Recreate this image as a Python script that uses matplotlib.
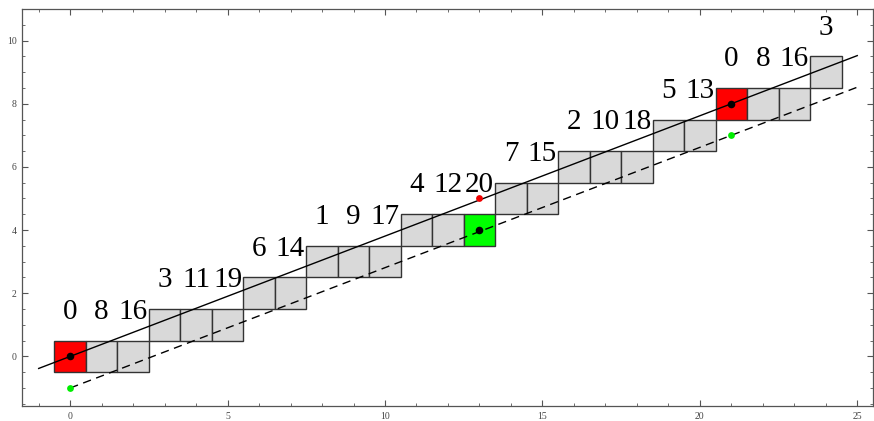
import matplotlib
matplotlib.use("Agg")
import matplotlib.pyplot as plt
from matplotlib.patches import Rectangle
from matplotlib.ticker import MultipleLocator

# ---- data ----
sq_x = [0, 1, 2, 3, 4, 5, 6, 7, 8, 9, 10, 11, 12, 13, 14, 15, 16, 17, 18, 19, 20, 21, 22, 23, 24]
sq_y = [0, 0, 0, 1, 1, 1, 2, 2, 3, 3, 3, 4, 4, 4, 5, 5, 6, 6, 6, 7, 7, 8, 8, 8, 9]
sq_labels = ["0", "8", "16", "3", "11", "19", "6", "14", "1", "9", "17", "4", "12", "20",
             "7", "15", "2", "10", "18", "5", "13", "0", "8", "16", "3"]
sq_kind = ["red", "gray", "gray", "gray", "gray", "gray", "gray", "gray", "gray", "gray",
           "gray", "gray", "gray", "green", "gray", "gray", "gray", "gray", "gray", "gray",
           "gray", "red", "gray", "gray", "gray"]

solid_x = [-1, 25]
solid_y = [-0.381, 9.524]
dashed_x = [0, 25]
dashed_y = [-1.0, 8.524]

black_x = [0, 13, 21]
black_y = [0, 4, 8]
green_x = [0, 21]
green_y = [-1, 7]
red_x = [13]
red_y = [5]

fill_colors = {"red": "#ff0000", "green": "#00ff00", "gray": "#d9d9d9"}

# ---- figure ----
fig = plt.figure(figsize=(8.74, 4.21), dpi=100)
ax = fig.add_axes([22 / 874, 15 / 421, 851 / 874, 397 / 421])

for x, y, k in zip(sq_x, sq_y, sq_kind):
    ax.add_patch(Rectangle((x - 0.5, y - 0.5), 1, 1, facecolor=fill_colors[k],
                           edgecolor="#333333", linewidth=1.0, zorder=2))

for x, y, t in zip(sq_x, sq_y, sq_labels):
    ax.text(x, y + 1.19, t, ha="center", va="baseline", fontsize=21,
            family="Liberation Serif", color="black", zorder=3)

ax.plot(solid_x, solid_y, color="black", linewidth=1.0, zorder=4)
ax.plot(dashed_x, dashed_y, color="black", linewidth=1.0, linestyle=(0, (6, 4)), zorder=4)

ax.scatter(black_x, black_y, s=30, color="black", zorder=5, linewidths=0)
ax.scatter(green_x, green_y, s=24, color="#00ee00", zorder=5, linewidths=0)
ax.scatter(red_x, red_y, s=24, color="#ee0000", zorder=5, linewidths=0)

ax.set_xlim(-1.53, 25.5)
ax.set_ylim(-1.57, 11.0)

ax.xaxis.set_major_locator(MultipleLocator(5))
ax.xaxis.set_minor_locator(MultipleLocator(1))
ax.yaxis.set_major_locator(MultipleLocator(2))
ax.yaxis.set_minor_locator(MultipleLocator(0.5))

ax.tick_params(which="both", direction="in", top=True, right=True,
               labeltop=False, labelright=False, color="#555555",
               labelsize=7, labelcolor="#444444")
ax.tick_params(which="major", length=4, width=0.8, pad=4)
ax.tick_params(which="minor", length=2, width=0.6)
for lab in ax.get_xticklabels() + ax.get_yticklabels():
    lab.set_family("Liberation Serif")
for sp in ax.spines.values():
    sp.set_color("#555555")
    sp.set_linewidth(0.9)

fig.savefig("out.png", dpi=100)
